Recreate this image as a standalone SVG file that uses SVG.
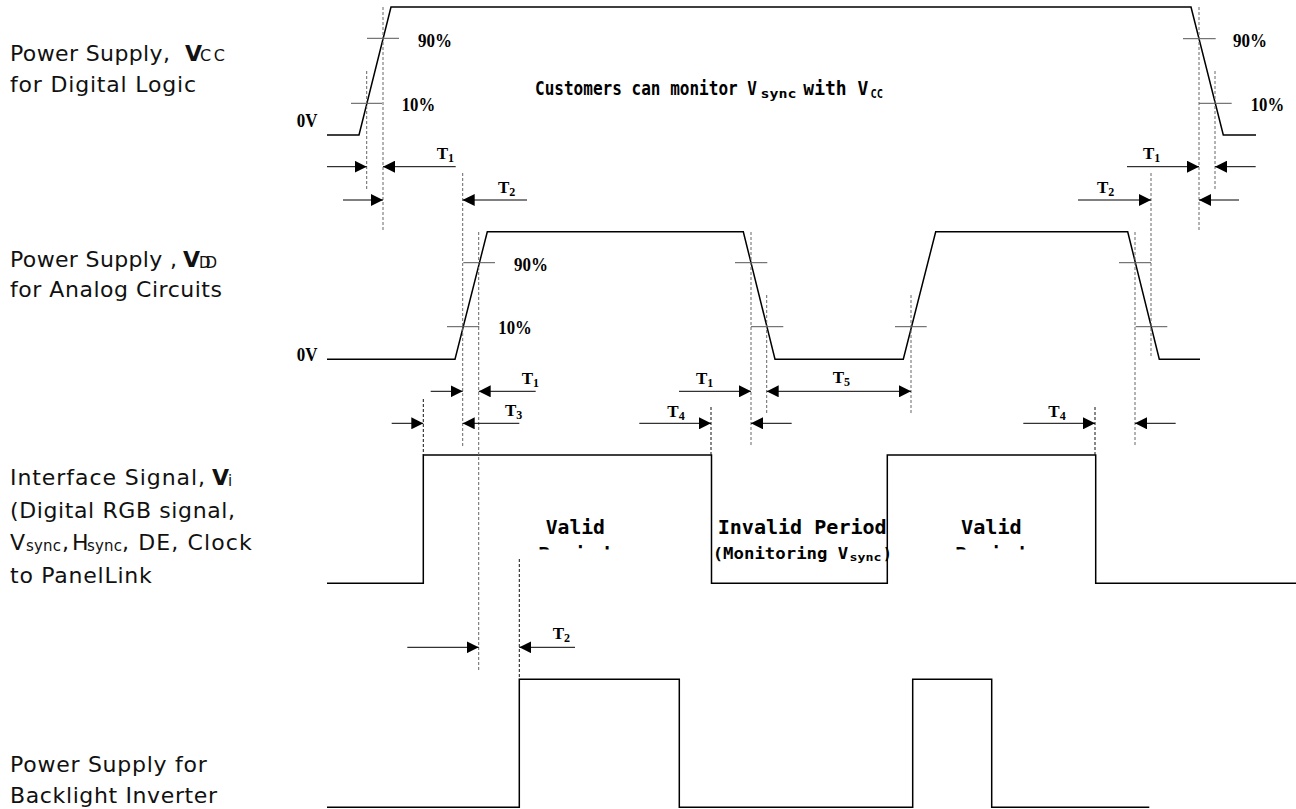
<svg xmlns="http://www.w3.org/2000/svg" width="1296" height="809" viewBox="0 0 1296 809">
<style>
.wave{fill:none;stroke:#000;stroke-width:1.5}
.tick{stroke:#555;stroke-width:1}
.dash{stroke:#666;stroke-width:1;stroke-dasharray:3 2}
.dashk{stroke:#111;stroke-width:1;stroke-dasharray:3 2}
.arr{stroke:#000;stroke-width:1;fill:none;marker-end:url(#ah)}
.arr2{stroke:#000;stroke-width:1;fill:none;marker-end:url(#ah);marker-start:url(#ah)}
.lbl{font-family:"DejaVu Sans",sans-serif;font-size:22px;fill:#111}
.pct{font-family:"Liberation Serif",serif;font-size:19px;fill:#000;font-weight:bold}
.zv{font-family:"Liberation Serif",serif;font-size:18px;font-weight:bold;fill:#000}
.tl{font-family:"Liberation Serif",serif;font-size:17px;fill:#000;font-weight:bold}
.mono{font-family:"DejaVu Sans Mono",monospace;font-weight:bold;fill:#000}
</style>
<defs>
<marker id="ah" markerWidth="12" markerHeight="12" refX="12" refY="6" orient="auto-start-reverse" markerUnits="userSpaceOnUse"><path d="M0,0 L12,6 L0,12 z" fill="#000"/></marker>
<clipPath id="clipPer"><rect x="500" y="540" width="600" height="9.5"/></clipPath>
</defs>
<rect width="1296" height="809" fill="#fff"/>

<!-- Row labels -->
<g id="label-vcc" class="lbl">
<text x="10" y="60.7" textLength="160" lengthAdjust="spacing">Power Supply,</text>
<text x="185" y="60.7" font-weight="bold">V</text>
<text x="200" y="60.7" font-size="16" textLength="25" lengthAdjust="spacing">CC</text>
<text x="10" y="91.5" textLength="186" lengthAdjust="spacing">for Digital Logic</text>
</g>
<g id="label-vdd" class="lbl">
<text x="10" y="266.5" textLength="167" lengthAdjust="spacing">Power Supply ,</text>
<text x="183" y="266.5" font-weight="bold">V</text>
<text x="199" y="267.5" font-size="15" textLength="18" lengthAdjust="spacing">DD</text>
<text x="10" y="296.5" textLength="212" lengthAdjust="spacing">for Analog Circuits</text>
</g>
<g id="label-vi" class="lbl">
<text x="10" y="485" textLength="195" lengthAdjust="spacing">Interface Signal,</text>
<text x="212" y="485" font-weight="bold">V</text>
<text x="228" y="486" font-size="15">i</text>
<text x="10" y="517.5" textLength="225" lengthAdjust="spacing">(Digital RGB signal,</text>
<text x="10" y="550">V</text>
<text x="26" y="551" font-size="15" textLength="35" lengthAdjust="spacing">sync</text>
<text x="62" y="550">,</text>
<text x="72" y="550">H</text>
<text x="87" y="551" font-size="15" textLength="35" lengthAdjust="spacing">sync</text>
<text x="122" y="550" textLength="129.7" lengthAdjust="spacing">, DE, Clock</text>
<text x="10" y="582.5" textLength="141.7" lengthAdjust="spacing">to PanelLink</text>
</g>
<g id="label-bl" class="lbl">
<text x="10" y="772" textLength="196.7" lengthAdjust="spacing">Power Supply for</text>
<text x="10" y="803" textLength="207" lengthAdjust="spacing">Backlight Inverter</text>
</g>

<!-- Waveforms -->
<g id="sig-vcc">
<polyline class="wave" points="327,135 359,135 391,7 1191,7 1223.3,135 1256,135"/>
<line class="tick" x1="367" y1="38.3" x2="399" y2="38.3"/>
<line class="tick" x1="351" y1="103.3" x2="382" y2="103.3"/>
<line class="tick" x1="1183" y1="38.7" x2="1215.7" y2="38.7"/>
<line class="tick" x1="1199" y1="103.3" x2="1231.7" y2="103.3"/>
<text class="pct" x="418" y="46.7" textLength="34" lengthAdjust="spacingAndGlyphs">90%</text>
<text class="pct" x="401.7" y="111" textLength="33.5" lengthAdjust="spacingAndGlyphs">10%</text>
<text class="pct" x="1233" y="46.7" textLength="34" lengthAdjust="spacingAndGlyphs">90%</text>
<text class="pct" x="1250.7" y="111" textLength="33.5" lengthAdjust="spacingAndGlyphs">10%</text>
<text class="zv" x="296.7" y="126.7" textLength="20.7" lengthAdjust="spacingAndGlyphs">0V</text>
<text class="mono" y="95" font-size="20"><tspan x="535" textLength="222" lengthAdjust="spacingAndGlyphs">Customers can monitor V</tspan><tspan x="760.5" y="98" font-size="12" textLength="36" lengthAdjust="spacingAndGlyphs">sync</tspan><tspan x="803.3" y="95" textLength="65" lengthAdjust="spacingAndGlyphs">with V</tspan><tspan x="870.5" y="98" font-size="12.5" textLength="12.5" lengthAdjust="spacingAndGlyphs">CC</tspan></text>
</g>

<g id="sig-vdd">
<polyline class="wave" points="327,359.3 455,359.3 487.3,231.7 743.3,231.7 775,359.3 903.3,359.3 935.7,231.7 1127.7,231.7 1159.3,359.3 1200,359.3"/>
<line class="tick" x1="463.3" y1="262.7" x2="495" y2="262.7"/>
<line class="tick" x1="447" y1="326.7" x2="479.3" y2="326.7"/>
<line class="tick" x1="735" y1="262.7" x2="767.3" y2="262.7"/>
<line class="tick" x1="751" y1="326.7" x2="783.3" y2="326.7"/>
<line class="tick" x1="895" y1="326.7" x2="926.7" y2="326.7"/>
<line class="tick" x1="1119" y1="262.7" x2="1151" y2="262.7"/>
<line class="tick" x1="1135.7" y1="326.7" x2="1167.3" y2="326.7"/>
<text class="pct" x="514" y="270.7" textLength="34" lengthAdjust="spacingAndGlyphs">90%</text>
<text class="pct" x="498.3" y="334.3" textLength="33.5" lengthAdjust="spacingAndGlyphs">10%</text>
<text class="zv" x="296.7" y="361" textLength="20.7" lengthAdjust="spacingAndGlyphs">0V</text>
</g>

<g id="sig-vi">
<polyline class="wave" points="327,583.3 423.3,583.3 423.3,455 711.5,455 711.5,583.3 887.3,583.3 887.3,455 1095.7,455 1095.7,583.3 1296,583.3"/>
<text class="mono" x="545.7" y="534.3" font-size="20" textLength="59.3" lengthAdjust="spacingAndGlyphs">Valid</text>
<text class="mono" x="538" y="561" font-size="20" textLength="72" lengthAdjust="spacingAndGlyphs" clip-path="url(#clipPer)">Period</text>
<text class="mono" x="717.7" y="534.3" font-size="20" textLength="169" lengthAdjust="spacingAndGlyphs">Invalid Period</text>
<text class="mono" y="559.3" font-size="16"><tspan x="712.7" textLength="135.6" lengthAdjust="spacingAndGlyphs">(Monitoring V</tspan><tspan x="849.5" y="561" font-size="11" textLength="32" lengthAdjust="spacingAndGlyphs">sync</tspan><tspan x="883" y="559.3" textLength="8.7" lengthAdjust="spacingAndGlyphs">)</tspan></text>
<text class="mono" x="961" y="534.3" font-size="20" textLength="60.7" lengthAdjust="spacingAndGlyphs">Valid</text>
<text class="mono" x="955" y="561" font-size="20" textLength="70" lengthAdjust="spacingAndGlyphs" clip-path="url(#clipPer)">Period</text>
</g>

<g id="sig-bl">
<polyline class="wave" points="327,807.3 519.3,807.3 519.3,679.3 679.3,679.3 679.3,807.3 912.7,807.3 912.7,679.3 991.7,679.3 991.7,807.3 1149.3,807.3"/>
</g>

<!-- Reference lines -->
<g id="refs">
<line class="dash" x1="383" y1="7" x2="383" y2="230"/>
<line class="dash" x1="366.7" y1="71" x2="366.7" y2="191"/>
<line class="dash" x1="462.7" y1="173" x2="462.7" y2="446.7"/>
<line class="dash" x1="478.7" y1="232" x2="478.7" y2="671"/>
<line class="dashk" x1="423.3" y1="399" x2="423.3" y2="455"/>
<line class="dash" x1="751" y1="232" x2="751" y2="446.7"/>
<line class="dash" x1="766.7" y1="295" x2="766.7" y2="415"/>
<line class="dash" x1="911" y1="295" x2="911" y2="415"/>
<line class="dashk" x1="711" y1="407" x2="711" y2="455"/>
<line class="dash" x1="1135" y1="232" x2="1135" y2="446.7"/>
<line class="dash" x1="1151" y1="173" x2="1151" y2="358"/>
<line class="dash" x1="1199" y1="7" x2="1199" y2="230"/>
<line class="dash" x1="1215" y1="71" x2="1215" y2="191"/>
<line class="dashk" x1="1095" y1="407" x2="1095" y2="455"/>
<line class="dashk" x1="519.3" y1="559" x2="519.3" y2="679"/>
</g>

<!-- Timing arrows -->
<g id="connectors">
<line class="arr" x1="327" y1="166.7" x2="366.7" y2="166.7"/>
<line class="arr" x1="455.7" y1="166.7" x2="383" y2="166.7"/>
<line class="arr" x1="343" y1="200" x2="383" y2="200"/>
<line class="arr" x1="527" y1="200" x2="462.7" y2="200"/>
<line class="arr" x1="1127" y1="166.7" x2="1199" y2="166.7"/>
<line class="arr" x1="1255.7" y1="166.7" x2="1215" y2="166.7"/>
<line class="arr" x1="1078" y1="200" x2="1151" y2="200"/>
<line class="arr" x1="1239" y1="200" x2="1199" y2="200"/>
<line class="arr" x1="430.7" y1="391.3" x2="462.7" y2="391.3"/>
<line class="arr" x1="535.7" y1="391.3" x2="478.7" y2="391.3"/>
<line class="arr" x1="391.7" y1="423.3" x2="423.3" y2="423.3"/>
<line class="arr" x1="519.3" y1="423.3" x2="462.7" y2="423.3"/>
<line class="arr" x1="679" y1="391.3" x2="751" y2="391.3"/>
<line class="arr2" x1="766.7" y1="391.3" x2="911" y2="391.3"/>
<line class="arr" x1="639.3" y1="423.3" x2="711" y2="423.3"/>
<line class="arr" x1="791.7" y1="423.3" x2="751" y2="423.3"/>
<line class="arr" x1="1023.3" y1="423.3" x2="1095" y2="423.3"/>
<line class="arr" x1="1175.7" y1="423.3" x2="1135" y2="423.3"/>
<line class="arr" x1="407.3" y1="647.3" x2="478.7" y2="647.3"/>
<line class="arr" x1="575" y1="647.3" x2="519.3" y2="647.3"/>
</g>

<!-- Timing labels -->
<g id="timing-labels" class="tl">
<text x="436.7" y="159">T<tspan font-size="12" dy="3">1</tspan></text>
<text x="498" y="193">T<tspan font-size="12" dy="3">2</tspan></text>
<text x="1143" y="159">T<tspan font-size="12" dy="3">1</tspan></text>
<text x="1097" y="193">T<tspan font-size="12" dy="3">2</tspan></text>
<text x="521.7" y="384.3">T<tspan font-size="12" dy="3">1</tspan></text>
<text x="505" y="416">T<tspan font-size="12" dy="3">3</tspan></text>
<text x="696" y="384.3">T<tspan font-size="12" dy="3">1</tspan></text>
<text x="667.3" y="416.7">T<tspan font-size="12" dy="3">4</tspan></text>
<text x="832.7" y="383.3">T<tspan font-size="12" dy="3">5</tspan></text>
<text x="1048.3" y="416.7">T<tspan font-size="12" dy="3">4</tspan></text>
<text x="552.7" y="639.3">T<tspan font-size="12" dy="3">2</tspan></text>
</g>
</svg>
